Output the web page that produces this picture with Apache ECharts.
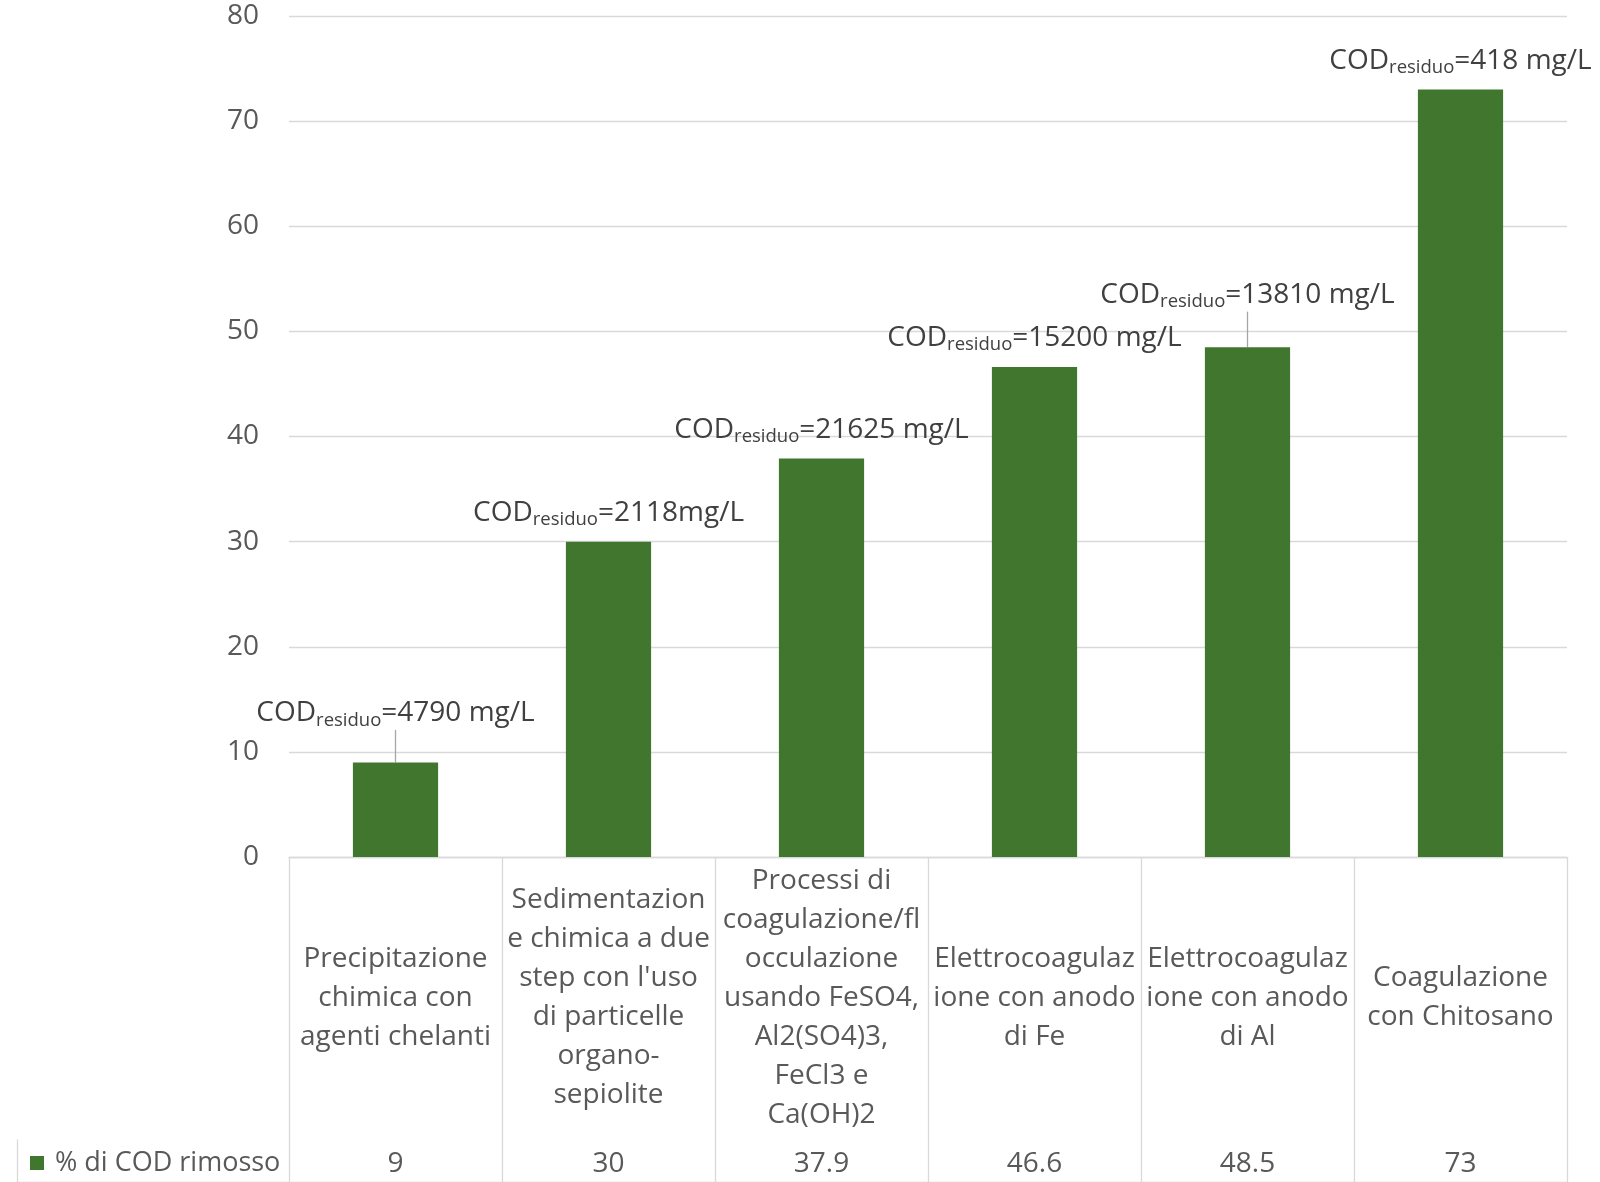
<!DOCTYPE html>
<html>
<head>
<meta charset="utf-8">
<script src="https://cdn.jsdelivr.net/npm/echarts@6/dist/echarts.min.js"></script>
<style>
html,body{margin:0;padding:0;background:#fff;}
#chart{width:1600px;height:1182px;}
</style>
</head>
<body>
<div id="chart"></div>
<script>
// ---- data ----
var categories = [
  "Precipitazione\nchimica con\nagenti chelanti",
  "Sedimentazion\ne chimica a due\nstep con l'uso\ndi particelle\norgano-\nsepiolite",
  "Processi di\ncoagulazione/fl\nocculazione\nusando FeSO4,\nAl2(SO4)3,\nFeCl3 e\nCa(OH)2",
  "Elettrocoagulaz\nione con anodo\ndi Fe",
  "Elettrocoagulaz\nione con anodo\ndi Al",
  "Coagulazione\ncon Chitosano"
];
var seriesName = "% di COD rimosso";
var codRemoved = [9, 30, 37.9, 46.6, 48.5, 73];
var codResiduo = ["4790 mg/L", "2118mg/L", "21625 mg/L", "15200 mg/L", "13810 mg/L", "418 mg/L"];
var yTicks = { min: 0, max: 80, interval: 10 };

// ---- styling / layout ----
var FONT = "'Open Sans', 'Noto Sans', sans-serif";
var TXT = '#595959';
var GRID_LINE = '#D9D9D9';
var BAR = '#40762D';
var plotLeft = 289, plotRight = 33, plotTop = 16, plotBottom = 325;
var labelShift = { 0: -20, 4: -23 };

var chart = echarts.init(document.getElementById('chart'), null, { renderer: 'canvas' });

var barData = codRemoved.map(function (v, i) {
  return { value: v, labelLine: { show: labelShift[i] !== undefined } };
});

var option = {
  backgroundColor: '#ffffff',
  animation: false,
  textStyle: { fontFamily: FONT },
  legend: {
    data: [seriesName],
    left: 25, top: 1143,
    icon: 'rect', itemWidth: 14, itemHeight: 14,
    textStyle: { fontFamily: FONT, fontSize: 27, color: TXT, lineHeight: 30, padding: [0, 0, 0, 6] }
  },
  grid: [
    { left: plotLeft, right: plotRight, top: plotTop, bottom: plotBottom, containLabel: false },
    { left: 17, right: plotRight, top: 1140, bottom: 0, containLabel: false }
  ],
  xAxis: [
    {
      type: 'category', gridIndex: 0, data: categories, boundaryGap: true,
      axisLine: { show: true, lineStyle: { color: GRID_LINE, width: 1.3 } },
      axisTick: { show: true, length: 325, lineStyle: { color: GRID_LINE, width: 1.3 } },
      axisLabel: {
        interval: 0, margin: 141, verticalAlign: 'middle', align: 'center',
        fontFamily: FONT, fontSize: 28, lineHeight: 39, color: TXT
      },
      splitLine: { show: false }
    },
    {
      type: 'category', gridIndex: 0, position: 'bottom',
      data: codRemoved.map(function (v) { return String(v); }),
      axisLine: { show: false }, axisTick: { show: false },
      axisLabel: {
        interval: 0, margin: 307, verticalAlign: 'middle', align: 'center',
        fontFamily: FONT, fontSize: 28, color: TXT
      },
      splitLine: { show: false }
    },
    {
      type: 'value', gridIndex: 1, position: 'top', min: 0, max: 1,
      axisLine: { show: true, lineStyle: { color: GRID_LINE, width: 1.3 } },
      axisTick: { show: false }, axisLabel: { show: false }, splitLine: { show: false }
    }
  ],
  yAxis: [
    {
      type: 'value', gridIndex: 0, min: yTicks.min, max: yTicks.max, interval: yTicks.interval,
      axisLine: { show: false }, axisTick: { show: false },
      axisLabel: { fontFamily: FONT, fontSize: 28, color: TXT, margin: 30 },
      splitLine: { show: true, lineStyle: { color: GRID_LINE, width: 1.3 } }
    },
    {
      type: 'value', gridIndex: 1, position: 'left', min: 0, max: 1,
      axisLine: { show: true, lineStyle: { color: GRID_LINE, width: 1.3 } },
      axisTick: { show: false }, axisLabel: { show: false }, splitLine: { show: false }
    }
  ],
  series: [
    {
      name: seriesName, type: 'bar', xAxisIndex: 0, yAxisIndex: 0,
      data: barData, barWidth: '40%',
      itemStyle: { color: BAR },
      label: {
        show: true, position: 'top', distance: 12,
        formatter: function (p) {
          return '{a|COD}{s|residuo}{a|=' + codResiduo[p.dataIndex] + '}';
        },
        rich: {
          a: { fontFamily: FONT, fontSize: 28, color: '#404040', lineHeight: 34 },
          s: { fontFamily: FONT, fontSize: 18.5, color: '#404040', lineHeight: 34, padding: [14, 0, 0, 0] }
        }
      },
      labelLayout: function (p) {
        var d = labelShift[p.dataIndex];
        return d ? { dy: d } : {};
      },
      labelLine: { show: false, lineStyle: { color: '#A6A6A6', width: 1.3 } }
    }
  ]
};
chart.setOption(option);
</script>
</body>
</html>
